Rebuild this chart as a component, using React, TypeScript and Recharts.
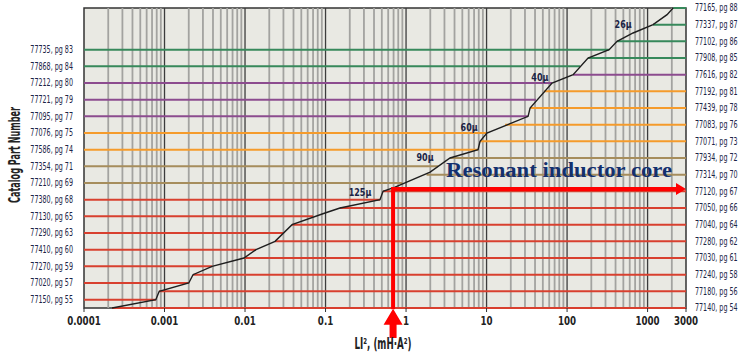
import React from 'react';
import {
  ComposedChart,
  Line,
  XAxis,
  YAxis,
  ReferenceLine,
  ReferenceDot,
  ReferenceArea,
  CartesianGrid,
  Label,
} from 'recharts';

// ---------- data ----------
const xTicks = [0.0001, 0.001, 0.01, 0.1, 1, 10, 100, 1000, 3000];
const decades = [0.0001, 0.001, 0.01, 0.1, 1, 10, 100, 1000];
const minorMultipliers = [2, 3, 4, 5, 6, 7, 8, 9];

// selector curve: LI² value vs. row level
const curveX = [0.000223, 0.00078, 0.00086, 0.002, 0.00226, 0.0039, 0.0097, 0.0137, 0.0236, 0.0384, 0.0986, 0.151, 0.475, 0.518, 0.73, 1.99, 3.52, 7.84, 8.3, 10.1, 32.8, 34.7, 65.1, 119, 182, 333, 418, 661, 1170, 1746, 2075];
const curveLevel = [0, 1, 2, 3, 4, 5, 6, 7, 8, 10, 11.4, 12, 13, 14, 14.5, 16.3, 18, 19, 20, 21, 23, 24, 27, 28, 30, 31, 32, 33, 34, 35.2, 36];

const leftLevels = [1, 3, 5, 7, 9, 11, 13, 15, 17, 19, 21, 23, 25, 27, 29, 31];
const leftLabels = [
  '77150, pg 55', '77020, pg 57', '77270, pg 59', '77410, pg 60', '77290, pg 63', '77130, pg 65',
  '77380, pg 68', '77210, pg 69', '77354, pg 71', '77586, pg 74', '77076, pg 75', '77095, pg 77',
  '77721, pg 79', '77212, pg 80', '77868, pg 84', '77735, pg 83',
];
const rightLevels = [0, 2, 4, 6, 8, 10, 12, 14, 16, 18, 20, 22, 24, 26, 28, 30, 32, 34, 36];
const rightLabels = [
  '77140, pg 54', '77180, pg 56', '77240, pg 58', '77030, pg 61', '77280, pg 62', '77040, pg 64',
  '77050, pg 66', '77120, pg 67', '77314, pg 70', '77934, pg 72', '77071, pg 73', '77083, pg 76',
  '77439, pg 78', '77192, pg 81', '77616, pg 82', '77908, pg 85', '77102, pg 86', '77337, pg 87',
  '77165, pg 88',
];

// row lines: level, side (L = from left edge to curve, R = from curve to right edge), meeting value, family
const lineLevel = [0, 1, 2, 3, 4, 5, 6, 7, 8, 9, 10, 11, 12, 13, 14, 15, 16, 17, 18, 19, 20, 21, 22, 23, 24, 25, 26, 27, 28, 29, 30, 31, 32, 34, 36];
const lineSide = ['R', 'L', 'R', 'L', 'R', 'L', 'R', 'L', 'R', 'L', 'R', 'L', 'R', 'L', 'R', 'L', 'R', 'L', 'R', 'L', 'R', 'L', 'R', 'L', 'R', 'L', 'R', 'L', 'R', 'L', 'R', 'L', 'R', 'R', 'R'];
const lineMeet = [0.000223, 0.00078, 0.00086, 0.002, 0.00226, 0.0039, 0.0097, 0.0137, 0.0236, 0.0296, 0.0384, 0.07, 0.151, 0.475, 0.518, 0.9, 1.8, 2.5, 3.52, 7.84, 8.3, 9.9, 17, 32.8, 34.7, 41, 51.8, 65.1, 119, 145, 182, 333, 418, 1170, 2075];
const lineFamily = ['125µ', '125µ', '125µ', '125µ', '125µ', '125µ', '125µ', '125µ', '125µ', '125µ', '125µ', '125µ', '125µ', '125µ', '125µ', '90µ', '90µ', '90µ', '90µ', '60µ', '60µ', '60µ', '60µ', '40µ', '60µ', '40µ', '60µ', '40µ', '40µ', '26µ', '26µ', '26µ', '26µ', '26µ', '26µ'];

const permLabels = ['125µ', '90µ', '60µ', '40µ', '26µ'];
const permX = [0.268, 1.72, 6.07, 46, 497];
const permLevel = [13.9, 18.1, 21.7, 27.7, 34.0];

const annotationText = 'Resonant inductor core';
const annotationX = 3.14;
const annotationLevel = 15.7;
const selectedLI2 = 0.69;
const selectedLevel = 14.28;

// ---------- styles ----------
const FONT = "'Liberation Sans Narrow', 'Arial Narrow', 'DejaVu Sans Condensed', 'Liberation Sans', sans-serif";
const familyColor: Record<string, string> = {
  '26µ': '#37895b',
  '40µ': '#8c4c8f',
  '60µ': '#f59b2b',
  '90µ': '#a68d5c',
  '125µ': '#d8402f',
};
const X_MIN = 0.0001;
const X_MAX = 3000;
const LABEL_COLOR = '#1b2446';

function arrowShape(shaftW: number, headL: number, headHalf: number, color: string) {
  return (p: any) => {
    const { x1, y1, x2, y2 } = p;
    if ([x1, y1, x2, y2].some((v) => typeof v !== 'number' || isNaN(v))) return null;
    const dx = x2 - x1;
    const dy = y2 - y1;
    const len = Math.hypot(dx, dy) || 1;
    const ux = dx / len;
    const uy = dy / len;
    const nx = -uy;
    const ny = ux;
    const bx = x2 - ux * headL;
    const by = y2 - uy * headL;
    const hw = shaftW / 2;
    const pts = [
      [x1 + nx * hw, y1 + ny * hw],
      [bx + nx * hw, by + ny * hw],
      [bx + nx * headHalf, by + ny * headHalf],
      [x2, y2],
      [bx - nx * headHalf, by - ny * headHalf],
      [bx - nx * hw, by - ny * hw],
      [x1 - nx * hw, y1 - ny * hw],
    ];
    return <polygon points={pts.map((q) => q.join(',')).join(' ')} fill={color} />;
  };
}

export default function App() {
  const curveData = curveX.map((x, i) => ({ x, y: curveLevel[i] }));
  const minorLines = decades
    .flatMap((d) => minorMultipliers.map((m) => d * m))
    .filter((v) => v < X_MAX);
  const majorLines = decades.slice(1);
  const leftMap: Record<number, string> = {};
  leftLevels.forEach((l, i) => (leftMap[l] = leftLabels[i]));
  const rightMap: Record<number, string> = {};
  rightLevels.forEach((l, i) => (rightMap[l] = rightLabels[i]));

  const sideTick = (anchor: 'start' | 'end', map: Record<number, string>) => (p: any) => (
    <text
      x={p.x}
      y={p.y}
      textAnchor={anchor}
      dominantBaseline="central"
      transform={`translate(${p.x} 0) scale(0.74 1) translate(${-p.x} 0)`}
      style={{ fontSize: 9.6, fill: LABEL_COLOR, fontFamily: FONT }}
    >
      {map[p.payload.value] ?? ''}
    </text>
  );
  const xTick = (p: any) => (
    <text
      x={p.x}
      y={p.y + 10}
      textAnchor="middle"
      transform={`translate(${p.x} 0) scale(0.84 1) translate(${-p.x} 0)`}
      style={{ fontSize: 11.5, fontWeight: 700, fill: '#222', fontFamily: FONT }}
    >
      {String(p.payload.value)}
    </text>
  );

  return (
    <div style={{ position: 'absolute', left: 0, top: 0, width: 748, height: 362, background: '#ffffff' }}>
      <ComposedChart width={748} height={362} data={curveData} margin={{ top: 8, right: 0, bottom: 0, left: 0 }}>
        <CartesianGrid horizontal={false} vertical={false} fill="#e9e9e3" yAxisId="L" />
        <XAxis
          dataKey="x"
          type="number"
          scale="log"
          domain={[X_MIN, X_MAX]}
          allowDataOverflow
          ticks={xTicks}
          interval={0}
          height={54}
          tickSize={4}
          tickMargin={3}
          axisLine={false}
          stroke="#333"
          tick={xTick}
        >
          <Label
            content={(props: any) => {
              const vb = props.viewBox || { x: 84, y: 308, width: 602, height: 54 };
              const cx = vb.x + vb.width / 2 - 2;
              return (
                <text
                  x={cx}
                  y={vb.y + 41}
                  textAnchor="middle"
                  textLength={57}
                  lengthAdjust="spacingAndGlyphs"
                  style={{ fontSize: 15, fontWeight: 700, fill: '#222', fontFamily: FONT }}
                >
                  LI², (mH·A²)
                </text>
              );
            }}
          />
        </XAxis>
        <YAxis
          yAxisId="L"
          type="number"
          domain={[0, 36]}
          ticks={leftLevels}
          interval={0}
          width={84}
          tickLine={false}
          axisLine={false}
          tickSize={0}
          tickMargin={11}
          tick={sideTick('end', leftMap)}
        >
          <Label
            content={(props: any) => {
              const vb = props.viewBox || { x: 0, y: 8, width: 84, height: 300 };
              const cx = vb.x + 15;
              const cy = vb.y + 147;
              return (
                <text
                  x={cx}
                  y={cy}
                  transform={`rotate(-90 ${cx} ${cy})`}
                  textAnchor="middle"
                  dominantBaseline="central"
                  textLength={96}
                  lengthAdjust="spacingAndGlyphs"
                  style={{ fontSize: 15, fontWeight: 700, fill: '#222', fontFamily: FONT }}
                >
                  Catalog Part Number
                </text>
              );
            }}
          />
        </YAxis>
        <YAxis
          yAxisId="R"
          orientation="right"
          type="number"
          domain={[0, 36]}
          ticks={rightLevels}
          interval={0}
          width={62}
          tickLine={false}
          axisLine={false}
          tickSize={0}
          tickMargin={9}
          tick={sideTick('start', rightMap)}
        />

        {minorLines.map((v) => (
          <ReferenceLine key={`mi${v}`} x={v} yAxisId="L" stroke="#a3a3a0" strokeWidth={1.8} />
        ))}
        {majorLines.map((v) => (
          <ReferenceLine key={`ma${v}`} x={v} yAxisId="L" stroke="#3c3c3c" strokeWidth={1.3} />
        ))}

        <ReferenceArea
          yAxisId="L"
          x1={X_MIN}
          x2={X_MAX}
          y1={0}
          y2={36}
          fill="none"
          fillOpacity={0}
          stroke="#333"
          strokeWidth={1.5}
        />

        {lineLevel.map((lvl, i) => {
          const meet = lineMeet[i];
          const a = lineSide[i] === 'L' ? X_MIN : meet;
          const b = lineSide[i] === 'L' ? meet : X_MAX;
          return (
            <ReferenceLine
              key={`row${lvl}`}
              yAxisId="L"
              segment={[{ x: a, y: lvl }, { x: b, y: lvl }]}
              stroke={familyColor[lineFamily[i]]}
              strokeWidth={2}
            />
          );
        })}

        <Line
          yAxisId="L"
          dataKey="y"
          type="linear"
          stroke="#1e1e1e"
          strokeWidth={1.4}
          dot={false}
          activeDot={false}
          isAnimationActive={false}
        />
        <Line
          yAxisId="R"
          dataKey="y"
          type="linear"
          stroke="none"
          dot={false}
          activeDot={false}
          legendType="none"
          isAnimationActive={false}
        />

        {permLabels.map((t, i) => (
          <ReferenceDot
            key={t}
            yAxisId="L"
            x={permX[i]}
            y={permLevel[i]}
            r={0}
            shape={(p: any) => (
              <text
                x={p.cx}
                y={p.cy}
                textAnchor="middle"
                dominantBaseline="central"
                transform={`translate(${p.cx} 0) scale(0.85 1) translate(${-p.cx} 0)`}
                style={{ fontSize: 10.5, fontWeight: 600, fill: LABEL_COLOR, fontFamily: FONT }}
              >
                {t}
              </text>
            )}
          />
        ))}

        <ReferenceDot
          yAxisId="L"
          x={annotationX}
          y={annotationLevel}
          r={0}
          shape={(p: any) => (
            <text
              x={p.cx}
              y={p.cy}
              textAnchor="start"
              textLength={226}
              lengthAdjust="spacingAndGlyphs"
              style={{
                fontSize: 21,
                fontWeight: 700,
                fill: '#13306e',
                fontFamily: "'Liberation Serif', 'Times New Roman', serif",
              }}
            >
              {annotationText}
            </text>
          )}
        />

        {/* selection arrows */}
        <ReferenceLine
          yAxisId="L"
          segment={[{ x: selectedLI2, y: 0.1 }, { x: selectedLI2, y: selectedLevel }]}
          stroke="#ff0000"
          strokeWidth={4}
          strokeLinecap="square"
        />
        <ReferenceLine
          yAxisId="L"
          segment={[{ x: selectedLI2, y: selectedLevel }, { x: X_MAX, y: selectedLevel }]}
          shape={arrowShape(4, 10, 6, '#ff0000')}
        />
        <ReferenceLine
          yAxisId="L"
          ifOverflow="visible"
          segment={[{ x: selectedLI2, y: -3.6 }, { x: selectedLI2, y: -0.1 }]}
          shape={arrowShape(7, 16, 9.5, '#ff0000')}
        />
      </ComposedChart>
    </div>
  );
}
